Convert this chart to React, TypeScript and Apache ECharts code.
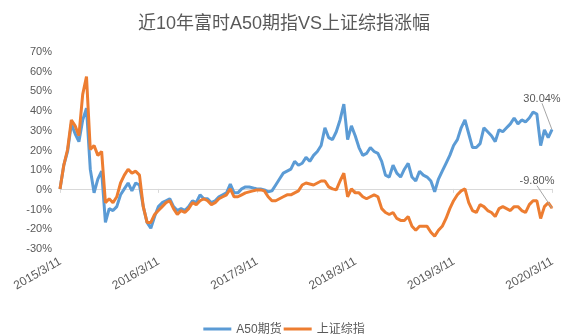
import React, { useEffect, useRef } from 'react';
import * as echarts from 'echarts';

// Tick labels (one per year, every 26 samples)
const tickLabels = ['2015/3/11', '2016/3/11', '2017/3/11', '2018/3/11', '2019/3/11', '2020/3/11'];
const STEP = 26;
const seriesNames = ['A50期货', '上证综指'];
const endLabels = ['30.04%', '-9.80%'];

// A50期货 cumulative change (%) sampled roughly every two weeks
const a50 = [
  0, 12, 19, 33, 28, 24, 35, 41, 10, -2, 5, 9, -17, -10, -11, -9, -3, 0, 3, -1, 3, 2, -9, -17, -20, -14, -9,
  -7, -6, -5, -9, -11, -10, -11, -9, -6, -7, -3, -5, -5, -7, -6, -4, -3, -2, 2.5, -2, -2, 0, 1, 1, 0.5, 0,
  0, -0.5, -1.5, -1, 2, 5, 8, 9, 10, 14, 12, 13, 16, 14, 17, 19, 22, 31, 26, 25, 29, 35, 43, 25, 32, 27,
  21, 17, 18, 21, 19, 18, 14, 7, 6, 12, 8, 6, 10, 13, 6, 4, 9, 7, 6, 4, -1.5, 5, 9, 13, 17, 22,
  25, 31, 35, 28, 21, 21, 23, 31, 29, 27, 24, 30, 29, 31, 33, 36, 33, 35, 34, 36, 39, 38, 22, 30, 26, 30.04,
];

// 上证综指 cumulative change (%)
const sse = [
  0, 12, 20, 35, 32, 27, 48, 57, 20, 22, 17, 19, -7, -5, -7, -4, 3, 7, 10, 8, 9, 7, -9, -17, -17, -13, -11,
  -9, -7, -6, -10, -13, -11, -12, -10, -7, -8, -6, -5, -6, -8, -7, -5, -4, -3, 0, -4, -4, -3, -2, -1.5, -1, -0.5,
  -0.5, -1, -4, -6, -6, -5, -4, -3, -3, -2, -1, 2, 3, 2.5, 2, 3, 4, 4, 1, 0, -0.5, 4, 8, -4, 0, -2,
  -2, -4, -5, -4, -3, -4, -10, -12, -13, -12, -15, -16, -16, -14, -19, -21, -19, -19, -19, -22, -24, -21, -19, -15, -10, -6,
  -3, -1, 0, -7, -11, -12, -8, -9, -11, -12, -14, -10, -9, -10, -11, -9, -9, -11, -12, -8, -6, -6, -15, -9, -7, -9.8,
];

const dates = a50.map((_, i) => {
  const d = new Date(Date.UTC(2015, 2, 11) + Math.round((i * 1827) / 130) * 86400000);
  return `${d.getUTCFullYear()}/${d.getUTCMonth() + 1}/${d.getUTCDate()}`;
});

const FONT = '"Liberation Sans", "Noto Sans CJK SC", sans-serif';
const GRAY = '#595959';
const BLUE = '#5B9BD5';
const ORANGE = '#ED7D31';

export default function App() {
  const ref = useRef<HTMLDivElement>(null);
  useEffect(() => {
    const chart = echarts.init(ref.current!, null, { renderer: 'svg' });
    const mk = (vals: number[], label: string, color: string) =>
      vals.map((v, i) =>
        i === vals.length - 1
          ? {
              value: v,
              symbol: 'circle',
              symbolSize: 1,
              itemStyle: { color },
              label: {
                show: true,
                formatter: label,
                position: 'top',
                color: GRAY,
                fontSize: 11,
                fontFamily: FONT,
              },
            }
          : v
      );
    chart.setOption({
      animation: false,
      textStyle: { fontFamily: FONT },
      title: {
        text: '近10年富时A50期指VS上证综指涨幅',
        left: 'center',
        top: 9,
        textStyle: { fontSize: 18, color: GRAY, fontWeight: 'normal', fontFamily: FONT },
      },
      legend: {
        data: seriesNames.map((name) => ({ name, icon: 'rect' })),
        left: 'center',
        top: 318,
        itemWidth: 28,
        itemHeight: 3,
        itemGap: 2,
        textStyle: { fontSize: 12, color: GRAY, fontFamily: FONT },
      },
      grid: { left: 60, right: 16, top: 51, bottom: 88 },
      xAxis: [
        {
          type: 'category',
          data: dates,
          boundaryGap: false,
          axisLine: { onZero: true, lineStyle: { color: '#d9d9d9', width: 1 } },
          axisTick: { show: true, interval: STEP - 1, length: 4, lineStyle: { color: '#d9d9d9' } },
          axisLabel: { show: false },
          splitLine: { show: false },
        },
        {
          type: 'category',
          data: dates,
          boundaryGap: false,
          position: 'bottom',
          axisLine: { show: false, onZero: false },
          axisTick: { show: false },
          axisLabel: {
            interval: STEP - 1,
            rotate: 30,
            fontSize: 12,
            color: GRAY,
            margin: 12,
            formatter: (_v: string, idx: number) => tickLabels[Math.round(idx / STEP)] ?? '',
          },
          splitLine: { show: false },
        },
      ],
      yAxis: {
        type: 'value',
        min: -30,
        max: 70,
        interval: 10,
        axisLine: { show: false },
        axisTick: { show: false },
        splitLine: { show: false },
        axisLabel: { formatter: '{value}%', color: GRAY, fontSize: 11, margin: 8 },
      },
      series: [
        {
          name: seriesNames[0],
          type: 'line',
          xAxisIndex: 0,
          data: mk(a50, endLabels[0], BLUE),
          symbol: 'none',
          showSymbol: true,
          showAllSymbol: true,
          lineStyle: { color: BLUE, width: 3 },
          itemStyle: { color: BLUE },
          labelLayout: { dx: -10, dy: -21 },
          labelLine: { show: true, lineStyle: { color: '#a6a6a6', width: 1 } },
          emphasis: { disabled: true },
          silent: true,
        },
        {
          name: seriesNames[1],
          type: 'line',
          xAxisIndex: 0,
          data: mk(sse, endLabels[1], ORANGE),
          symbol: 'none',
          showSymbol: true,
          showAllSymbol: true,
          lineStyle: { color: ORANGE, width: 3 },
          itemStyle: { color: ORANGE },
          labelLayout: { dx: -15, dy: -17 },
          labelLine: { show: true, lineStyle: { color: '#a6a6a6', width: 1 } },
          emphasis: { disabled: true },
          silent: true,
        },
      ],
    });
    return () => chart.dispose();
  }, []);
  return <div ref={ref} style={{ position: 'fixed', left: 0, top: 0, width: 568, height: 336 }} />;
}
